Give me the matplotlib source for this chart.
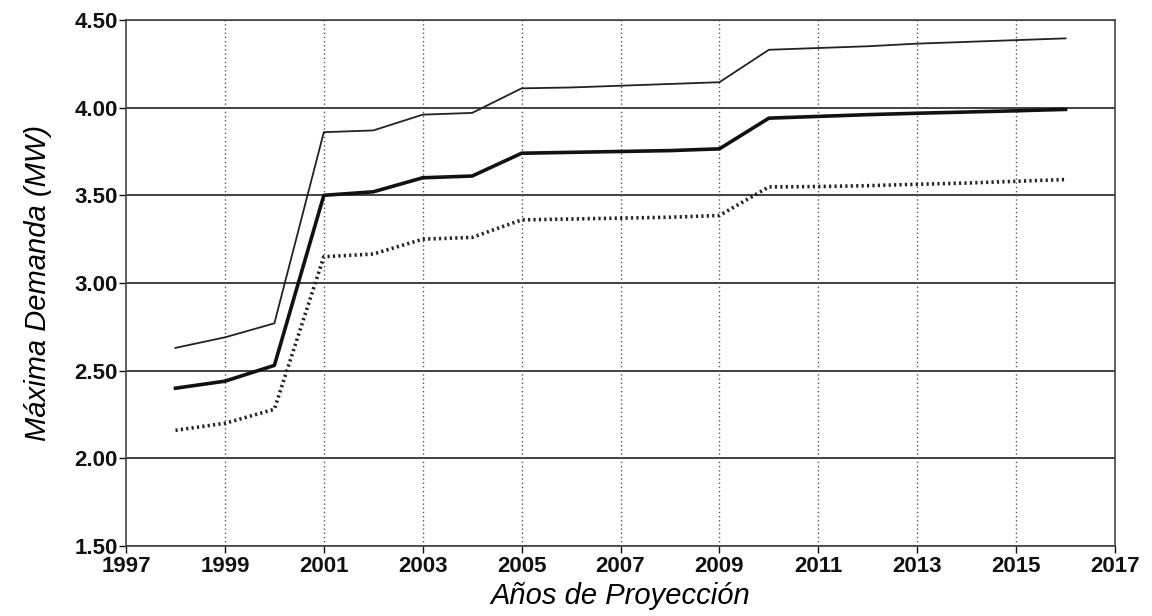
import matplotlib
matplotlib.use("Agg")
import matplotlib.pyplot as plt

# Projected maximum demand (MW)
years = list(range(1998, 2017))
upper = [2.63, 2.69, 2.77, 3.86, 3.87, 3.96, 3.97, 4.11, 4.115, 4.125, 4.135,
         4.145, 4.33, 4.34, 4.35, 4.365, 4.375, 4.385, 4.395]
middle = [2.40, 2.44, 2.53, 3.50, 3.52, 3.60, 3.61, 3.74, 3.745, 3.75, 3.755,
          3.765, 3.94, 3.95, 3.96, 3.968, 3.975, 3.982, 3.99]
lower = [2.16, 2.20, 2.28, 3.15, 3.165, 3.25, 3.26, 3.36, 3.365, 3.37, 3.375,
         3.385, 3.548, 3.55, 3.555, 3.563, 3.57, 3.58, 3.59]

x_ticks = list(range(1997, 2018, 2))
y_ticks = [1.5, 2.0, 2.5, 3.0, 3.5, 4.0, 4.5]

plt.rcParams["font.family"] = ["Liberation Sans", "DejaVu Sans"]

fig = plt.figure(figsize=(11.52, 6.16), dpi=100)
ax = fig.add_axes([0.1094, 0.1136, 0.8585, 0.854])

for y in y_ticks:
    ax.axhline(y, color="#333333", lw=1.3, zorder=1)
for x in x_ticks[1:-1]:
    ax.axvline(x, color="#555555", lw=1.0, ls=(0, (1, 2)), zorder=1)

ax.plot(years, upper, color="#222222", lw=1.3, zorder=3)
ax.plot(years, middle, color="#111111", lw=2.6, zorder=3)
ax.plot(years, lower, color="#222222", lw=2.6, ls=(0, (0.6, 0.9)), zorder=3)

ax.set_xlim(1997, 2017)
ax.set_ylim(1.5, 4.5)
ax.set_xticks(x_ticks)
ax.set_yticks(y_ticks)
ax.set_yticklabels(["{:.2f}".format(v) for v in y_ticks])
ax.tick_params(axis="both", labelsize=16, length=5, width=1.0, colors="#111111")
ax.tick_params(axis="x", pad=2)
ax.tick_params(axis="y", pad=1)
for lab in ax.get_xticklabels() + ax.get_yticklabels():
    lab.set_fontweight("bold")

for side in ["left", "right", "top", "bottom"]:
    ax.spines[side].set_color("#444444")
    ax.spines[side].set_linewidth(1.2)

ax.set_xlabel("Años de Proyección", fontsize=21, style="italic", labelpad=4)
ax.set_ylabel("Máxima Demanda (MW)", fontsize=21, style="italic", labelpad=16)

fig.savefig("out.png", dpi=100)
